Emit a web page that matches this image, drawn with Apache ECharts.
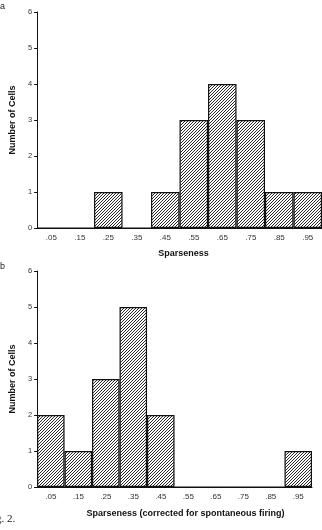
<!DOCTYPE html>
<html>
<head>
<meta charset="utf-8">
<script src="https://cdn.jsdelivr.net/npm/echarts@6/dist/echarts.min.js"></script>
<style>
  html, body { margin: 0; padding: 0; background: #fff; }
  #chart { width: 322px; height: 530px; }
</style>
</head>
<body>
<div id="chart"></div>
<script>
// bins of sparseness (bin centres)
const bins = [".05", ".15", ".25", ".35", ".45", ".55", ".65", ".75", ".85", ".95"];
// panel a: sparseness
const countsA = [0, 0, 1, 0, 1, 3, 4, 3, 1, 1];
// panel b: corrected for spontaneous firing
const countsB = [2, 1, 3, 5, 2, 0, 0, 0, 0, 1];
const yTicks = [0, 1, 2, 3, 4, 5, 6];

// diagonal hatch tile
const makeHatch = () => {
  const c = document.createElement("canvas");
  c.width = 3;
  c.height = 3;
  const ctx = c.getContext("2d");
  ctx.fillStyle = "#fff";
  ctx.fillRect(0, 0, 3, 3);
  ctx.fillStyle = "#2a2a2a";
  ctx.fillRect(2, 0, 1, 1);
  ctx.fillRect(1, 1, 1, 1);
  ctx.fillRect(0, 2, 1, 1);
  return c;
};
const hatch = { image: makeHatch(), repeat: "repeat" };

const font = "Liberation Sans, Arial, sans-serif";

const myChart = echarts.init(document.getElementById("chart"), null, { renderer: "canvas" });

const xAxisBase = {
  type: "category",
  data: bins,
  axisLine: { lineStyle: { color: "#111", width: 1 } },
  axisTick: { alignWithLabel: true, length: 3, lineStyle: { color: "#111" } },
  axisLabel: { fontSize: 8, color: "#333", fontFamily: font, margin: 6 },
  nameLocation: "middle",
  nameTextStyle: { fontSize: 9, fontWeight: "bold", color: "#111", fontFamily: font },
};

const yAxisBase = {
  type: "value",
  min: 0,
  max: yTicks[yTicks.length - 1],
  interval: 1,
  name: "Number of Cells",
  nameLocation: "middle",
  nameGap: 20,
  nameTextStyle: { fontSize: 9, fontWeight: "bold", color: "#111", fontFamily: font },
  axisLine: { show: true, lineStyle: { color: "#111", width: 1 } },
  axisTick: { show: true, length: 3, lineStyle: { color: "#111" } },
  axisLabel: { fontSize: 7.5, color: "#333", fontFamily: font, margin: 5 },
  splitLine: { show: false },
};

const barStyle = {
  color: hatch,
  borderColor: "#111",
  borderWidth: 1.2,
};

const option = {
  animation: false,
  grid: [
    { left: 36, top: 12, width: 286, height: 216 },
    { left: 36, top: 271, width: 276, height: 216 },
  ],
  xAxis: [
    { ...xAxisBase, gridIndex: 0, name: "Sparseness", nameGap: 21, nameTextStyle: { ...xAxisBase.nameTextStyle, padding: [0, 0, 0, 8] } },
    { ...xAxisBase, gridIndex: 1, name: "Sparseness (corrected for spontaneous firing)", nameGap: 22, nameTextStyle: { ...xAxisBase.nameTextStyle, padding: [0, 0, 0, 22] } },
  ],
  yAxis: [
    { ...yAxisBase, gridIndex: 0 },
    { ...yAxisBase, gridIndex: 1 },
  ],
  series: [
    {
      type: "bar",
      xAxisIndex: 0,
      yAxisIndex: 0,
      data: countsA,
      barCategoryGap: "0%",
      itemStyle: barStyle,
    },
    {
      type: "bar",
      xAxisIndex: 1,
      yAxisIndex: 1,
      data: countsB,
      barCategoryGap: "0%",
      itemStyle: barStyle,
    },
  ],
  graphic: [
    { type: "text", left: 0, top: 2, style: { text: "a", fontSize: 9, fill: "#222", fontFamily: font } },
    { type: "text", left: 0, top: 262, style: { text: "b", fontSize: 9, fill: "#222", fontFamily: font } },
    { type: "text", left: -4, top: 514, style: { text: "g. 2.", fontSize: 11, fill: "#222", fontFamily: "Liberation Serif, serif" } },
  ],
};

myChart.setOption(option);

window.addEventListener("resize", () => {
  myChart.resize();
});
</script>
</body>
</html>
